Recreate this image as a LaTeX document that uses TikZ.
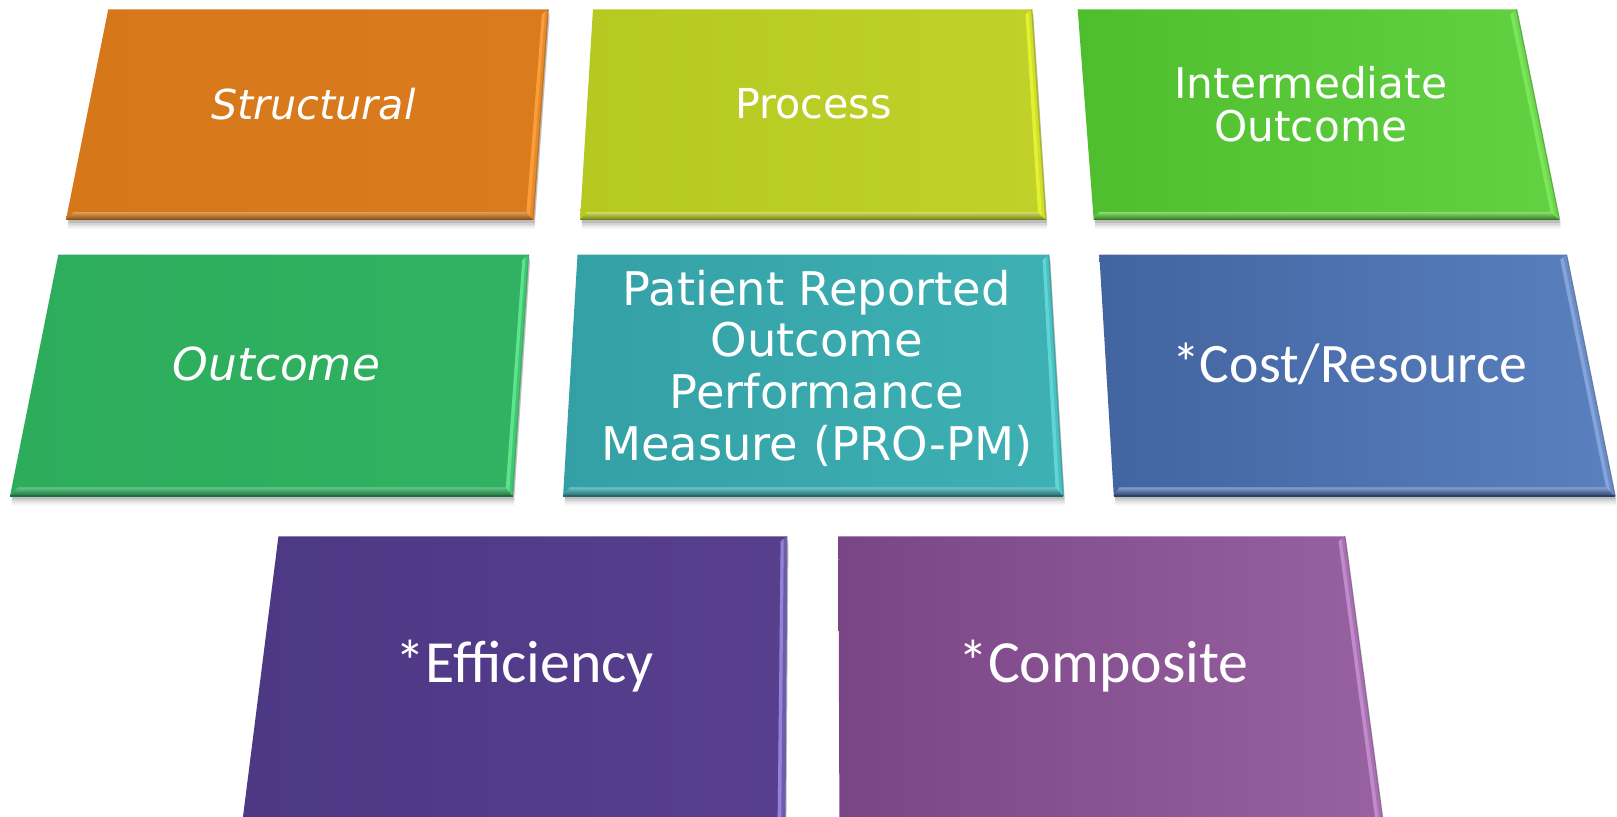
\documentclass[tikz,border=0pt]{standalone}
\usepackage{fontspec}
\newfontfamily\verd{DejaVu Sans}
\newfontfamily\calfont{Carlito}
\usetikzlibrary{calc}

\definecolor{orA}{HTML}{D67719}
\definecolor{orB}{HTML}{DA7C1E}
\definecolor{orH}{HTML}{FB9E3A}
\definecolor{liA}{HTML}{B6C921}
\definecolor{liB}{HTML}{C0D22A}
\definecolor{liH}{HTML}{E2F22E}
\definecolor{grA}{HTML}{4FBE2E}
\definecolor{grB}{HTML}{62D142}
\definecolor{grH}{HTML}{7CE65A}
\definecolor{ouA}{HTML}{2DAD5C}
\definecolor{ouB}{HTML}{30B262}
\definecolor{ouH}{HTML}{5EE48C}
\definecolor{teA}{HTML}{33A0A5}
\definecolor{teB}{HTML}{3EB1B4}
\definecolor{teH}{HTML}{5ED6D6}
\definecolor{blA}{HTML}{4264A0}
\definecolor{blB}{HTML}{5A80BF}
\definecolor{blH}{HTML}{84A4DC}
\definecolor{puA}{HTML}{4D3884}
\definecolor{puB}{HTML}{573F8E}
\definecolor{puH}{HTML}{9482DA}
\definecolor{viA}{HTML}{7A4585}
\definecolor{viB}{HTML}{9862A2}
\definecolor{viH}{HTML}{C08ACB}

\tikzset{
  lbl/.style={text=white, align=center, inner sep=0pt},
  vlbl/.style={lbl, font=\verd\fontsize{40}{42}\selectfont},
  vilbl/.style={lbl, font=\verd\itshape\fontsize{40}{42}\selectfont},
  prolbl/.style={lbl, font=\verd\fontsize{45}{50}\selectfont},
  clbl/.style={lbl, font=\calfont\fontsize{54}{60}\selectfont},
  cblbl/.style={lbl, font=\calfont\fontsize{58}{64}\selectfont},
}

% #1 name, #2 TL, #3 TR, #4 BR, #5 BL, #6 left colour, #7 right colour, #8 highlight
\newcommand\tile[8]{%
  \coordinate (#1-tl) at (#2);
  \coordinate (#1-tr) at (#3);
  \coordinate (#1-br) at (#4);
  \coordinate (#1-bl) at (#5);
  \foreach \o/\a in {9/0.04,7/0.06,5/0.08,3/0.1}{
    \fill[black,opacity=\a] ($(#1-tl)+(1.5,\o)$) -- ($(#1-tr)+(1.5,\o)$) -- ($(#1-br)+(1.5,\o)$) -- ($(#1-bl)+(1.5,\o)$) -- cycle;
  }
  \shade[left color=#6, right color=#7] (#1-tl) -- (#1-tr) -- (#1-br) -- (#1-bl) -- cycle;
  \coordinate (#1-tri) at ($(#1-tr)+(-6,5)$);
  \coordinate (#1-trm) at ($(#1-tr)+(-3,2.5)$);
  \coordinate (#1-bri) at ($($(#1-br)!0.036!(#1-tr)$)+(-7,0)$);
  \coordinate (#1-brm) at ($($(#1-br)!0.018!(#1-tr)$)+(-3.5,0)$);
  \coordinate (#1-bli) at ($($(#1-bl)!0.036!(#1-tl)$)+(6,0)$);
  \shade[top color=#7!75!white, middle color=#7, bottom color=#6!65!black] (#1-bl) -- (#1-br) -- (#1-bri) -- (#1-bli) -- cycle;
  \fill[#7!60!#8] (#1-tr) -- (#1-br) -- (#1-bri) -- (#1-tri) -- cycle;
  \fill[#8] (#1-trm) -- (#1-brm) -- (#1-bri) -- (#1-tri) -- cycle;
  \draw[#8!75!black, line width=1.2pt] (#1-tr) -- (#1-br);
  \draw[#6!65!black, line width=1.2pt] (#1-bl) -- (#1-br);
}

\begin{document}
\begin{tikzpicture}[x=1pt,y=-1pt]
\useasboundingbox (0,0) rectangle (1568,792);
\clip (0,0) rectangle (1568,792);
\fill[white] (0,0) rectangle (1568,792);

\tile{st}{105,9}{531.5,9}{517,213}{64,213}{orA}{orB}{orH}
\tile{pr}{575,9}{1000.5,9}{1014,213}{562.5,213}{liA}{liB}{liH}
\tile{io}{1045,9}{1470.5,9}{1512,213}{1060.5,213}{grA}{grB}{grH}

\tile{ou}{56.5,247}{512.5,247}{497,481}{9.7,481}{ouA}{ouB}{ouH}
\tile{pp}{560,247}{1017,247}{1031,481}{546,481}{teA}{teB}{teH}
\tile{co}{1066,247}{1519,247}{1566,481}{1080,481}{blA}{blB}{blH}

\tile{ef}{270,520}{763,520}{761,805}{234,805}{puA}{puB}{puH}
\tile{cm}{813,520}{1304,520}{1342,805}{814,805}{viA}{viB}{viH}

\node[vilbl] (tStructural) at (304,101) {Structural};
\node[vlbl] (tProcess) at (789,101) {Process};
\node[vlbl, font=\verd\fontsize{41}{42}\selectfont] (tInter) at (1271,101) {Intermediate\\Outcome};
\node[vilbl, font=\verd\itshape\fontsize{44}{46}\selectfont] (tOutcome) at (268,353) {Outcome};
\node[prolbl] (tPro) at (792,357) {Patient Reported\\Outcome\\Performance\\Measure (PRO-PM)};
\node[clbl] (tCost) at (1309,353) {*Cost/Resource};
\node[cblbl] (tEff) at (509,646) {*Efficiency};
\node[cblbl] (tComp) at (1070,646) {*Composite};
\end{tikzpicture}
\end{document}
